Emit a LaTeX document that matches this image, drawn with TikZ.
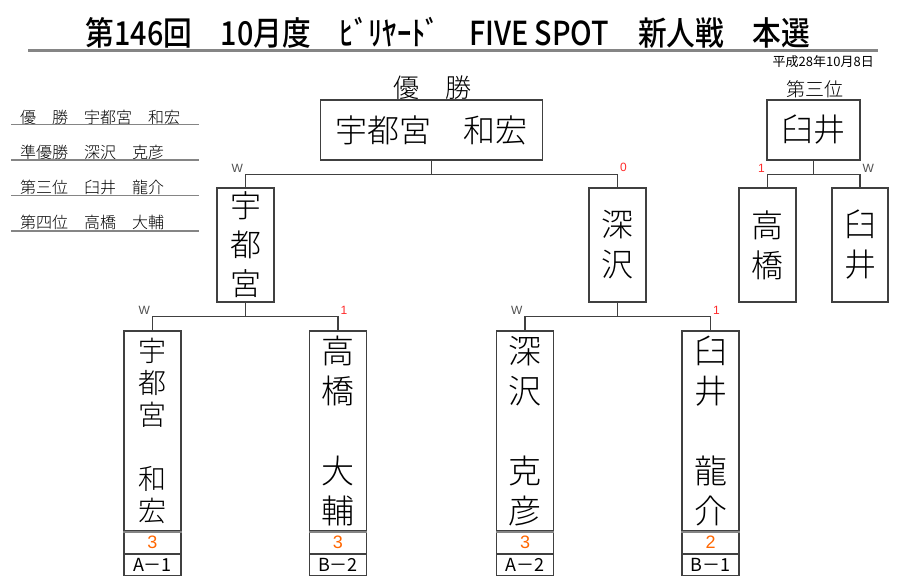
\documentclass[tikz,border=0pt]{standalone}
\usepackage{fontspec}
\setmainfont{Liberation Sans}
\newfontfamily\jp{Noto Sans CJK JP}
\newfontfamily\jpl{Noto Sans CJK JP Light}
\newfontfamily\jpm{Noto Sans CJK JP Medium}
\usetikzlibrary{positioning}

\definecolor{linec}{HTML}{404040}
\definecolor{rulec}{HTML}{858585}
\definecolor{scorec}{HTML}{FF6600}
\definecolor{losec}{HTML}{FF2A2A}
\definecolor{wcol}{HTML}{505050}

\tikzset{
  namebox/.style={draw=linec, line width=1.2pt, inner sep=0pt, align=center},
  rowbox/.style={draw=linec, line width=1.2pt, inner sep=0pt, minimum width=57pt, minimum height=21pt},
  link/.style={draw=linec, line width=1.2pt},
  wlab/.style={font=\fontsize{12}{12}\selectfont, text=wcol, inner sep=2pt},
  llab/.style={font=\fontsize{12}{12}\selectfont, text=losec, inner sep=2pt},
  listtxt/.style={font=\jpl\fontsize{16}{16}\selectfont, inner sep=0pt, anchor=west},
  listline/.style={draw=rulec, line width=1.5pt}
}

\begin{document}
\begin{tikzpicture}[x=1pt, y=-1pt]
  \useasboundingbox (0,0) rectangle (900,587);

  % Title and date
  \node (title) at (448,33) {\scalebox{0.87}[1]{\jpm\fontsize{33}{33}\selectfont 第146回　10月度　ﾋﾞﾘﾔｰﾄﾞ　FIVE SPOT　新人戦　本選}};
  \draw[rulec, line width=3pt] (28,50) -- (878,50);
  \node[anchor=east, inner sep=0pt, font=\jp\fontsize{13}{13}\selectfont] (date) at (874,62) {平成28年10月8日};

  % Result list on the left
  \foreach \t [count=\i] in {優　勝　宇都宮　和宏, 準優勝　深沢　克彦, 第三位　臼井　龍介, 第四位　高橋　大輔} {
    \node[listtxt] (list\i) at (20,82+35*\i) {\t};
    \draw[listline] (11,89+35.5*\i) -- (199,89+35.5*\i);
  }

  % Winner and third place
  \node[font=\jpl\fontsize{26}{26}\selectfont] (wintitle) at (432,88) {優　勝};
  \node[namebox, minimum width=222pt, minimum height=60pt, font=\jpl\fontsize{32}{32}\selectfont] (final) at (431.5,130) {宇都宮　和宏};
  \node[font=\jpl\fontsize{19}{19}\selectfont] (thirdtitle) at (815,89) {第三位};
  \node[namebox, minimum width=93pt, minimum height=60pt, font=\jpl\fontsize{32}{32}\selectfont] (third) at (813.5,130) {臼井};

  % Semi final boxes
  \node[namebox, minimum width=57pt, minimum height=114pt, font=\jpl\fontsize{31}{39}\selectfont] (semiL) at (245.5,245) {宇\\都\\宮};
  \node[namebox, minimum width=57pt, minimum height=114pt, font=\jpl\fontsize{32}{40}\selectfont] (semiR) at (617.5,245) {深\\沢};
  \node[namebox, minimum width=57pt, minimum height=114pt, font=\jpl\fontsize{32}{40}\selectfont] (tpL) at (767.5,245) {高\\橋};
  \node[namebox, minimum width=56pt, minimum height=114pt, font=\jpl\fontsize{32}{40}\selectfont] (tpR) at (860,245) {臼\\井};

  % First round boxes
  \node[namebox, minimum width=57pt, minimum height=200pt, font=\jpl\fontsize{28}{32}\selectfont] (qA) at (152.5,431) {宇\\都\\宮\\[32pt]和\\宏};
  \node[namebox, minimum width=57pt, minimum height=200pt, font=\jpl\fontsize{33}{40}\selectfont] (qB) at (338,431) {高\\橋\\[40pt]大\\輔};
  \node[namebox, minimum width=57pt, minimum height=200pt, font=\jpl\fontsize{33}{40}\selectfont] (qC) at (525,431) {深\\沢\\[40pt]克\\彦};
  \node[namebox, minimum width=57pt, minimum height=200pt, font=\jpl\fontsize{33}{40}\selectfont] (qD) at (710.5,431) {臼\\井\\[40pt]龍\\介};

  % Score and seed rows
  \foreach \q/\s/\b in {qA/3/A－1, qB/3/B－2, qC/3/A－2, qD/2/B－1} {
    \node[rowbox, below=0pt of \q, text=scorec, font=\fontsize{18}{18}\selectfont] (s\q) {\s};
    \node[rowbox, below=0pt of s\q, font=\jp\fontsize{18}{18}\selectfont] (b\q) {\b};
    \draw[rulec, line width=2.2pt] (s\q.north west) -- (s\q.north east);
  }

  % Bracket lines
  \draw[link] (final.south) -- ++(0,14) -| node[wlab, above left] {W} (semiL.north);
  \draw[link] (final.south) -- ++(0,14) -| node[llab, above right] {0} (semiR.north);
  \draw[link] (semiL.south) -- ++(0,14) -| node[wlab, above left] {W} (qA.north);
  \draw[link] (semiL.south) -- ++(0,14) -| node[llab, above right] {1} (qB.north);
  \draw[link] (semiR.south) -- ++(0,14) -| node[wlab, above left] {W} (qC.north);
  \draw[link] (semiR.south) -- ++(0,14) -| node[llab, above right] {1} (qD.north);
  \draw[link] (third.south) -- ++(0,14) -| node[llab, above left] {1} (tpL.north);
  \draw[link] (third.south) -- ++(0,14) -| node[wlab, above right] {W} (tpR.north);

\end{tikzpicture}
\end{document}
